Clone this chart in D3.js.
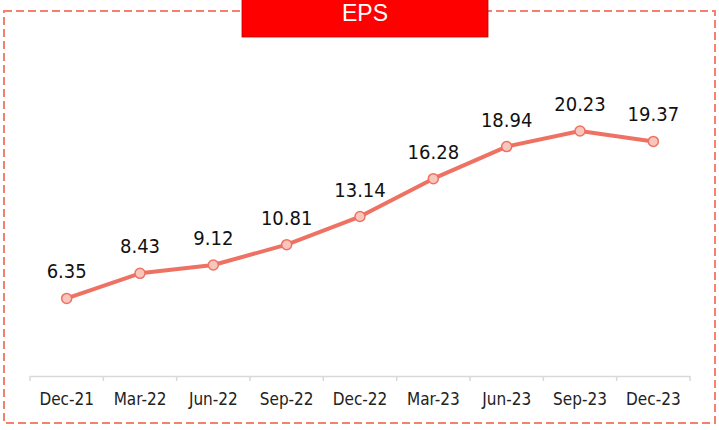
<!DOCTYPE html>
<html>
<head>
<meta charset="utf-8">
<script src="https://cdnjs.cloudflare.com/ajax/libs/d3/7.8.5/d3.min.js"></script>
<style>
  body { margin: 0; background: #fff; }
  svg { display: block; }
  .cond { font-family: 'DejaVu Sans Condensed', 'DejaVu Sans', Verdana, sans-serif; font-stretch: condensed; }
</style>
</head>
<body>
<svg></svg>
<script>
// data
const quarters = ["Dec-21", "Mar-22", "Jun-22", "Sep-22", "Dec-22", "Mar-23", "Jun-23", "Sep-23", "Dec-23"];
const eps = [6.35, 8.43, 9.12, 10.81, 13.14, 16.28, 18.94, 20.23, 19.37];
const title = "EPS";

const width = 719;
const height = 430;
const lineColor = "#ee7263";

const svg = d3.select("svg")
  .attr("width", width)
  .attr("height", height);

// dashed frame
svg.append("rect")
  .attr("x", 4)
  .attr("y", 11)
  .attr("width", 711)
  .attr("height", 412)
  .attr("fill", "none")
  .attr("stroke", "#f4806e")
  .attr("stroke-width", 2)
  .attr("stroke-dasharray", "8,4");

// title box
svg.append("rect")
  .attr("x", 242)
  .attr("y", -2)
  .attr("width", 246)
  .attr("height", 39)
  .attr("fill", "#ff0000")
  .attr("stroke", "#c00000")
  .attr("stroke-width", 0.8);

svg.append("text")
  .attr("x", 365)
  .attr("y", 21)
  .attr("text-anchor", "middle")
  .attr("fill", "#fff")
  .style("font-family", "'Liberation Sans Narrow', 'Liberation Sans', sans-serif")
  .style("font-size", "23px")
  .text(title);

// scales
const xScale = d3.scaleBand()
  .domain(quarters)
  .range([30, 690]);

const yScale = d3.scaleLinear()
  .domain([0, 25])
  .range([375, 73.5]);

// x axis
const xAxis = d3.axisBottom(xScale).tickSize(0).tickPadding(0);
const gx = svg.append("g")
  .attr("transform", "translate(0, 376)")
  .call(xAxis);
gx.select(".domain").attr("stroke", "#d9d9d9").attr("stroke-width", 1.5);
gx.selectAll(".tick text")
  .attr("class", "cond")
  .attr("dy", 0)
  .attr("y", 29)
  .attr("fill", "#222")
  .style("font-size", "17px");

// band separators
gx.selectAll(".sep")
  .data(quarters.concat(["end"]))
  .enter()
  .append("line")
  .attr("x1", (d, i) => i < quarters.length ? xScale(d) : xScale.range()[1])
  .attr("x2", (d, i) => i < quarters.length ? xScale(d) : xScale.range()[1])
  .attr("y1", 0)
  .attr("y2", 5)
  .attr("stroke", "#d9d9d9")
  .attr("stroke-width", 1.5);

const cx = (d, i) => xScale(quarters[i]) + xScale.bandwidth() / 2;

// line
const line = d3.line()
  .x((d, i) => cx(d, i))
  .y((d) => yScale(d));

svg.append("path")
  .datum(eps)
  .attr("d", line)
  .attr("fill", "none")
  .attr("stroke", lineColor)
  .attr("stroke-width", 4)
  .attr("stroke-linejoin", "round");

// markers
svg.selectAll("circle.pt")
  .data(eps)
  .enter()
  .append("circle")
  .attr("class", "pt")
  .attr("cx", cx)
  .attr("cy", (d) => yScale(d))
  .attr("r", 5)
  .attr("fill", "#f9c6be")
  .attr("stroke", lineColor)
  .attr("stroke-width", 1.5);

// value labels
svg.selectAll("text.val")
  .data(eps)
  .enter()
  .append("text")
  .attr("class", "val cond")
  .attr("x", cx)
  .attr("y", (d) => yScale(d) - 20)
  .attr("text-anchor", "middle")
  .attr("fill", "#111")
  .style("font-size", "20px")
  .text((d) => d.toFixed(2));
</script>
</body>
</html>
